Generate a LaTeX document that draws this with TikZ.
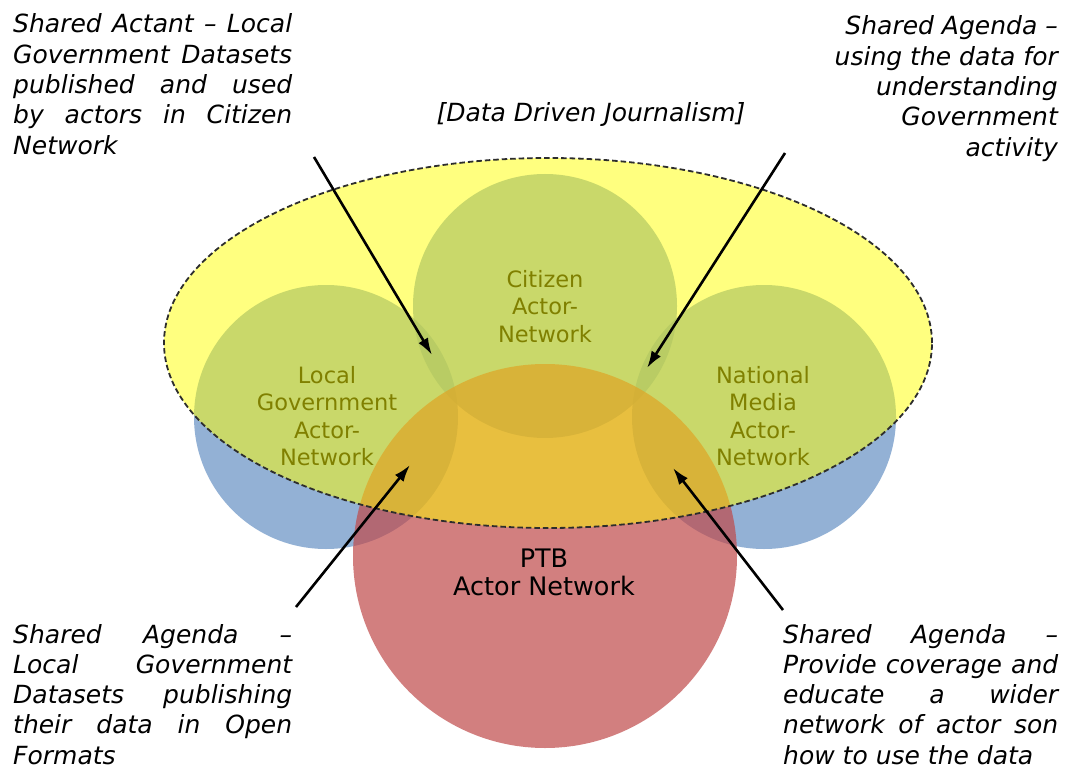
\documentclass[tikz,border=0pt]{standalone}
\usepackage{fontspec}
\setmainfont{DejaVu Sans}
\usetikzlibrary{arrows.meta}
\definecolor{vblue}{RGB}{102,145,196}
\definecolor{vred}{RGB}{192,74,74}
\definecolor{vyellow}{RGB}{255,255,0}
\definecolor{dashgray}{RGB}{45,45,45}
\newcommand{\jl}[1]{\makebox[\linewidth][s]{#1}\par}
\begin{document}
\begin{tikzpicture}[x=1pt,y=-1pt,
  bluecirc/.style={fill=vblue, fill opacity=0.7},
  redcirc/.style={fill=vred, fill opacity=0.7},
  lbl/.style={inner sep=0pt, anchor=base, font=\fontsize{22.5}{27.5}\selectfont},
  note/.style={inner sep=0pt, font=\itshape\fontsize{25}{30.3}\selectfont},
  arr/.style={-{Latex[length=17pt,width=11pt]}, line width=2.6pt, black}]
\useasboundingbox (0,0) rectangle (1068,770);
\fill[white] (0,0) rectangle (1068,770);
% actor-network circles
\fill[bluecirc] (326,417) circle[radius=132pt];
\fill[bluecirc] (764,417) circle[radius=132pt];
\fill[bluecirc] (545,306) circle[radius=132pt];
\fill[redcirc] (545,556) circle[radius=192pt];
% labels inside circles (under the yellow layer)
\node[lbl] (citizen) at (545,287) {\parbox[t]{200pt}{\centering Citizen\\Actor-\\Network}};
\node[lbl] (localgov) at (327,383) {\parbox[t]{220pt}{\centering Local\\Government\\Actor-\\Network}};
\node[lbl] (national) at (763,383) {\parbox[t]{220pt}{\centering National\\Media\\Actor-\\Network}};
% data driven journalism ellipse
\fill[vyellow, fill opacity=0.5] (548,343) ellipse[x radius=384pt, y radius=185pt];
\draw[dashgray, line width=1.8pt, dash pattern=on 5.5pt off 3pt] (548,343) ellipse[x radius=384pt, y radius=185pt];
\node[lbl, font=\fontsize{25.5}{28}\selectfont] (ptb) at (544,567) {\parbox[t]{220pt}{\centering PTB\\Actor Network}};
\node[note, anchor=base] (ddj) at (591,122) {[Data Driven Journalism]};
% annotations
\node[note, anchor=base west] (tl) at (13,33) {\parbox[t]{279pt}{%
  \jl{Shared Actant – Local}\jl{Government Datasets}\jl{published and used}\jl{by actors in Citizen}Network}};
\node[note, anchor=base east] (tr) at (1058,35) {\parbox[t]{279pt}{\raggedleft
  Shared Agenda –\\using the data for\\understanding\\Government\\activity}};
\node[note, anchor=base west] (bl) at (13,643) {\parbox[t]{279pt}{%
  \jl{Shared Agenda –}\jl{Local Government}\jl{Datasets publishing}\jl{their data in Open}Formats}};
\node[note, anchor=base west] (br) at (783,643) {\parbox[t]{275pt}{%
  \jl{Shared Agenda –}\jl{Provide coverage and}\jl{educate a wider}\jl{network of actor son}how to use the data}};
% arrows
\coordinate (a1s) at (314,157); \coordinate (a1t) at (432,355);
\coordinate (a2s) at (785,153); \coordinate (a2t) at (647,368);
\coordinate (a3s) at (296,607); \coordinate (a3t) at (410,465);
\coordinate (a4s) at (783,610); \coordinate (a4t) at (673,468);
\draw[arr] (a1s) -- (a1t);
\draw[arr] (a2s) -- (a2t);
\draw[arr] (a3s) -- (a3t);
\draw[arr] (a4s) -- (a4t);
\end{tikzpicture}
\end{document}
